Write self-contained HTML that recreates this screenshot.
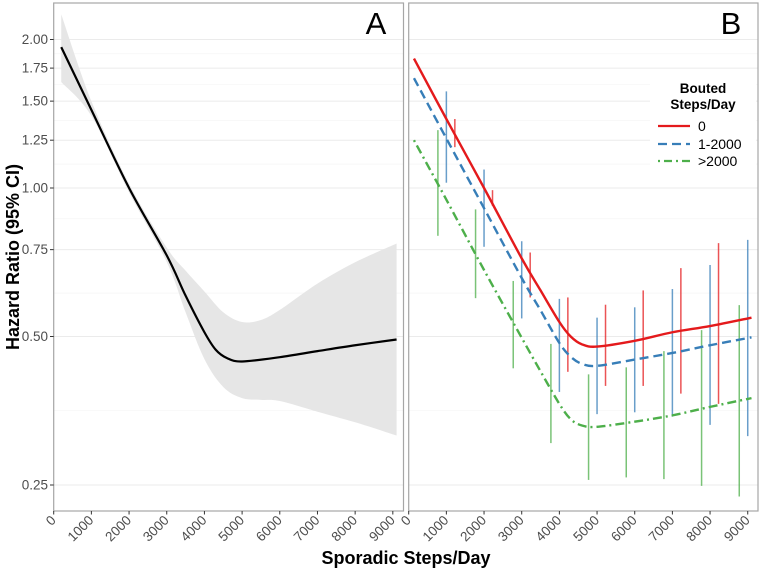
<!DOCTYPE html>
<html><head><meta charset="utf-8">
<style>
html,body{margin:0;padding:0;background:#fff;}
svg{display:block;font-family:"Liberation Sans",Arial,sans-serif;}
</style></head>
<body>
<svg id="chart" width="762" height="572" viewBox="0 0 762 572" xmlns="http://www.w3.org/2000/svg">
  <rect x="0" y="0" width="762" height="572" fill="#fff"/>
  <g id="grid"></g>
  <g id="panelA"></g>
  <g id="panelB"></g>
  <g id="axes"></g>
  <text x="14" y="257" transform="rotate(-90 14 257)" text-anchor="middle" dominant-baseline="middle" font-size="18" font-weight="bold" fill="#000">Hazard Ratio (95% CI)</text>
  <text x="406" y="564" text-anchor="middle" font-size="18" font-weight="bold" fill="#000">Sporadic Steps/Day</text>
  <text x="376" y="34" text-anchor="middle" font-size="31" fill="#000">A</text>
  <text x="731" y="34" text-anchor="middle" font-size="31" fill="#000">B</text>
  <g>
    <rect x="650" y="70" width="106" height="100" fill="#fff"/>
    <text x="703" y="93" text-anchor="middle" font-size="13.5" font-weight="bold"><tspan x="703">Bouted</tspan><tspan x="703" dy="16">Steps/Day</tspan></text>
    <g>
      <line x1="658" y1="126" x2="690" y2="126" stroke="#e41a1c" stroke-width="2.2"/>
      <text x="698" y="131" font-size="14">0</text>
    </g>
    <g>
      <line x1="658" y1="144" x2="690" y2="144" stroke="#377eb8" stroke-width="2.2" stroke-dasharray="9,5"/>
      <text x="698" y="149" font-size="14">1-2000</text>
    </g>
    <g>
      <line x1="658" y1="161" x2="690" y2="161" stroke="#4daf4a" stroke-width="2.2" stroke-dasharray="2,4,8,4"/>
      <text x="698" y="166" font-size="14">&gt;2000</text>
    </g>
  </g>
</svg>
<script>
// ---- data ----
const yTicks = [0.25, 0.5, 0.75, 1.0, 1.25, 1.5, 1.75, 2.0];
const yTickLabels = ["0.25", "0.50", "0.75", "1.00", "1.25", "1.50", "1.75", "2.00"];
const xTicks = [0, 1000, 2000, 3000, 4000, 5000, 6000, 7000, 8000, 9000];
const xTickLabels = ["0", "1000", "2000", "3000", "4000", "5000", "6000", "7000", "8000", "9000"];

const aSteps = [200, 1000, 2000, 3000, 3500, 4000, 4300, 4600, 5000, 6000, 7000, 8000, 9100];
const aHR    = [1.93, 1.44, 1.0, 0.73, 0.605, 0.51, 0.47, 0.452, 0.445, 0.454, 0.467, 0.48, 0.493];
const bandSteps = [200, 1000, 2000, 3000, 3500, 4000, 4500, 5000, 5500, 6000, 7000, 8000, 9100];
const aUpper = [2.25, 1.50, 1.02, 0.757, 0.68, 0.617, 0.56, 0.535, 0.54, 0.566, 0.64, 0.707, 0.772];
const aLower = [1.64, 1.40, 0.98, 0.708, 0.56, 0.45, 0.395, 0.375, 0.372, 0.37, 0.352, 0.335, 0.315];

const bSteps = [140, 1000, 2000, 3000, 3500, 4000, 4300, 4600, 5000, 6000, 7000, 8000, 9100];
const redHR   = [1.83, 1.38, 1.0, 0.72, 0.62, 0.535, 0.5, 0.482, 0.477, 0.49, 0.51, 0.525, 0.546];
const blueHR  = [1.67, 1.26, 0.91, 0.657, 0.565, 0.485, 0.455, 0.44, 0.436, 0.449, 0.463, 0.48, 0.498];
const greenHR = [1.25, 0.947, 0.682, 0.497, 0.425, 0.365, 0.34, 0.33, 0.328, 0.336, 0.346, 0.36, 0.375];

const barBins = [1000, 2000, 3000, 4000, 5000, 6000, 7000, 8000, 9000];
const redTop    = [1.38, 0.99, 0.74, 0.60, 0.58, 0.62, 0.688, 0.773];
const redBottom = [1.21, 0.92, 0.60, 0.424, 0.397, 0.397, 0.383, 0.365];
const blueTop    = [1.57, 1.09, 0.78, 0.596, 0.546, 0.573, 0.624, 0.698, 0.785];
const blueBottom = [1.025, 0.76, 0.544, 0.386, 0.348, 0.351, 0.344, 0.331, 0.314];
const greenTop    = [1.31, 0.905, 0.648, 0.483, 0.419, 0.433, 0.467, 0.515, 0.579];
const greenBottom = [0.80, 0.598, 0.431, 0.304, 0.256, 0.259, 0.257, 0.249, 0.237];

// ---- scales ----
const NS = "http://www.w3.org/2000/svg";
const plotTop = 3, plotBottom = 511;
function yScale(v){ return 188 - 148.5 * Math.log2(v); }
function xA(s){ return 53.7 + 0.03768 * s; }
function xB(s){ return 408.7 + 0.03767 * s; }
function mk(tag, attrs, parent){
  const el = document.createElementNS(NS, tag);
  for (const k in attrs) el.setAttribute(k, attrs[k]);
  parent.appendChild(el);
  return el;
}
const grid = document.getElementById('grid');
const axes = document.getElementById('axes');
const pA = document.getElementById('panelA');
const pB = document.getElementById('panelB');

// gridlines
const panels = [[53.7, 403.5], [408.7, 758]];
const logs = yTicks.map(v => Math.log2(v));
panels.forEach(([x0, x1]) => {
  for (let i = 0; i < yTicks.length; i++) {
    const y = yScale(yTicks[i]);
    const g = mk('line', {x1: x0, x2: x1, y1: y, y2: y, stroke: '#ebebeb', 'stroke-width': 1}, grid);
    
    
    if (i < yTicks.length - 1) {
      const ym = yScale(Math.pow(2, (logs[i] + logs[i + 1]) / 2));
      const m = mk('line', {x1: x0, x2: x1, y1: ym, y2: ym, stroke: '#f3f3f3', 'stroke-width': 0.6}, grid);
      
      
    }
  }
});

function smoothPath(xs, ys, cont){
  const pts = xs.map((x, i) => [x, ys[i]]);
  let d = (cont ? 'L' : 'M') + pts[0][0] + ',' + pts[0][1];
  for (let i = 0; i < pts.length - 1; i++) {
    const p0 = pts[Math.max(0, i - 1)], p1 = pts[i], p2 = pts[i + 1], p3 = pts[Math.min(pts.length - 1, i + 2)];
    const c1x = p1[0] + (p2[0] - p0[0]) / 6, c1y = p1[1] + (p2[1] - p0[1]) / 6;
    const c2x = p2[0] - (p3[0] - p1[0]) / 6, c2y = p2[1] - (p3[1] - p1[1]) / 6;
    d += 'C' + c1x + ',' + c1y + ' ' + c2x + ',' + c2y + ' ' + p2[0] + ',' + p2[1];
  }
  return d;
}

// panel A band + line
const bx = bandSteps.map(xA);
const band = smoothPath(bx, aUpper.map(yScale)) +
  smoothPath(bx.slice().reverse(), aLower.map(yScale).reverse(), true) + 'Z';
const bandEl = mk('path', {d: band, fill: '#e6e6e6'}, pA);



const lineA = mk('path', {d: smoothPath(aSteps.map(xA), aHR.map(yScale)), fill: 'none', stroke: '#000', 'stroke-width': 2.2}, pA);



// panel B error bars
function bars(tops, bottoms, offset, color, name){
  tops.forEach((t, i) => {
    const x = xB(barBins[i] + offset);
    const b = mk('line', {x1: x, x2: x, y1: yScale(t), y2: yScale(bottoms[i]), stroke: color, 'stroke-width': 1.5, 'stroke-opacity': 0.75}, pB);
    
    
  });
}
bars(greenTop, greenBottom, -225, '#4daf4a', 'error-bar-over-2000');
bars(blueTop, blueBottom, 0, '#377eb8', 'error-bar-1-2000');
bars(redTop, redBottom, 225, '#e41a1c', 'error-bar-0');

const lr = mk('path', {d: smoothPath(bSteps.map(xB), redHR.map(yScale)), fill: 'none', stroke: '#e41a1c', 'stroke-width': 2.4}, pB);


const lb = mk('path', {d: smoothPath(bSteps.map(xB), blueHR.map(yScale)), fill: 'none', stroke: '#377eb8', 'stroke-width': 2.4, 'stroke-dasharray': '9,5'}, pB);


const lg = mk('path', {d: smoothPath(bSteps.map(xB), greenHR.map(yScale)), fill: 'none', stroke: '#4daf4a', 'stroke-width': 2.4, 'stroke-dasharray': '2,4,9,4'}, pB);



// panel borders
panels.forEach(([x0, x1], k) => {
  const r = mk('rect', {x: x0, y: plotTop, width: x1 - x0, height: plotBottom - plotTop, fill: 'none', stroke: '#a6a6a6', 'stroke-width': 1.2}, axes);
  
  
});

// y ticks
yTicks.forEach((v, i) => {
  const y = yScale(v);
  const t = mk('line', {x1: 50, x2: 53.7, y1: y, y2: y, stroke: '#333', 'stroke-width': 1}, axes);
  
  
  const l = mk('text', {x: 48, y: y + 4.5, 'text-anchor': 'end', 'font-size': 13.5, fill: '#4d4d4d'}, axes);
  l.textContent = yTickLabels[i];
  
  
});

// x ticks
[xA, xB].forEach(fx => {
  xTicks.forEach((s, i) => {
    const x = fx(s);
    const t = mk('line', {x1: x, x2: x, y1: plotBottom, y2: plotBottom + 3.5, stroke: '#333', 'stroke-width': 1}, axes);
    
    
    const tx = x + 3, ty = plotBottom + 10;
    const l = mk('text', {x: tx, y: ty, 'text-anchor': 'end', 'font-size': 13.5, fill: '#4d4d4d', transform: 'rotate(-45 ' + tx + ' ' + ty + ')'}, axes);
    l.textContent = xTickLabels[i];
    
    
  });
});
</script>
</body></html>
